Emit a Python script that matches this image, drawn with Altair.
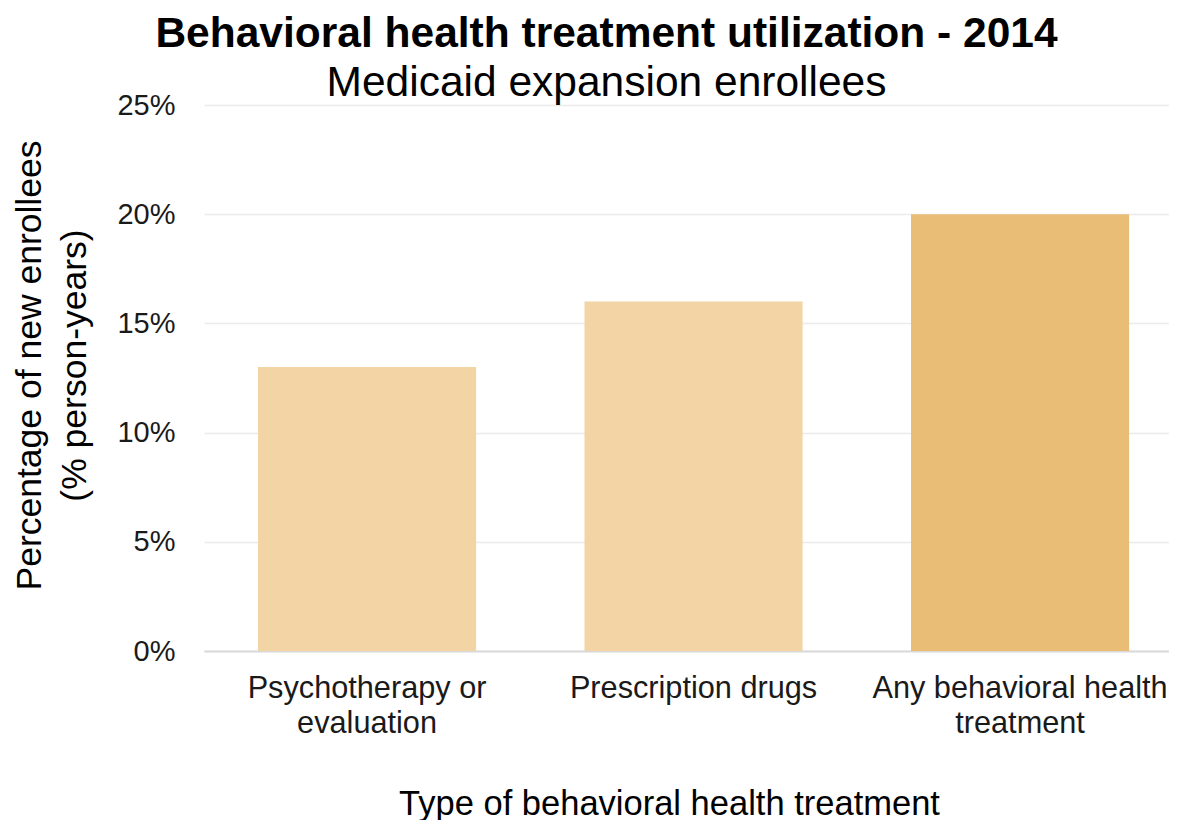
import altair as alt
import pandas as pd

categories = ["Psychotherapy or|evaluation", "Prescription drugs", "Any behavioral health|treatment"]
values = [13, 16, 20]
colors = ["#F2D4A5", "#F2D4A5", "#E9BD76"]

df = pd.DataFrame({"cat": categories, "val": values, "col": colors})

FONT = "Liberation Sans"

chart = alt.Chart(df).mark_bar().encode(
    x=alt.X("cat:N", sort=categories,
            scale=alt.Scale(paddingInner=0.332, paddingOuter=0.1438, align=0.575),
            axis=alt.Axis(title="Type of behavioral health treatment", labelAngle=0,
                          labelExpr="split(datum.label, '|')", labelFontSize=30.7,
                          labelLineHeight=35, labelPadding=22, labelBaseline="top",
                          labelLimit=0, labelColor="#1a1a1a", ticks=False,
                          domainColor="#d9d9d9", domainWidth=2, titleFontSize=34.5,
                          titleFontWeight="normal", titleColor="#000000", titleX=465,
                          titleY=163, titleAlign="center", titleBaseline="alphabetic",
                          labelFont=FONT, titleFont=FONT)),
    y=alt.Y("val:Q", scale=alt.Scale(domain=[0, 25]),
            axis=alt.Axis(title=["Percentage of new enrollees", "(% person-years)"],
                          values=[0, 5, 10, 15, 20, 25],
                          labelExpr="datum.value + '%'", labelFontSize=29,
                          labelColor="#1a1a1a", labelPadding=29, ticks=False,
                          domain=False, gridColor="#ebebeb", gridWidth=1.5,
                          titleFontSize=35.5, titleFontWeight="normal", titleColor="#000000",
                          titleAngle=270, titleX=-175, titleY=260, titleAlign="center",
                          titleBaseline="middle", titleLineHeight=45, labelFont=FONT,
                          titleFont=FONT)),
    color=alt.Color("col:N", scale=None),
).properties(
    width=965,
    height=546,
    autosize=alt.AutoSizeParams(type="none"),
    padding={"left": 196, "top": 97, "right": 0, "bottom": 169},
    title=alt.TitleParams(
        text="Behavioral health treatment utilization - 2014",
        subtitle="Medicaid expansion enrollees",
        fontSize=42.5, fontWeight="bold", font=FONT, color="#000000",
        subtitleFontSize=42.5, subtitleFont=FONT, subtitleColor="#000000",
        subtitlePadding=6, anchor="middle", frame="group", dx=-80, offset=-13,
    ),
).configure_view(stroke=None)

chart.save("out.html", embed_options={"renderer": "svg", "actions": False})
